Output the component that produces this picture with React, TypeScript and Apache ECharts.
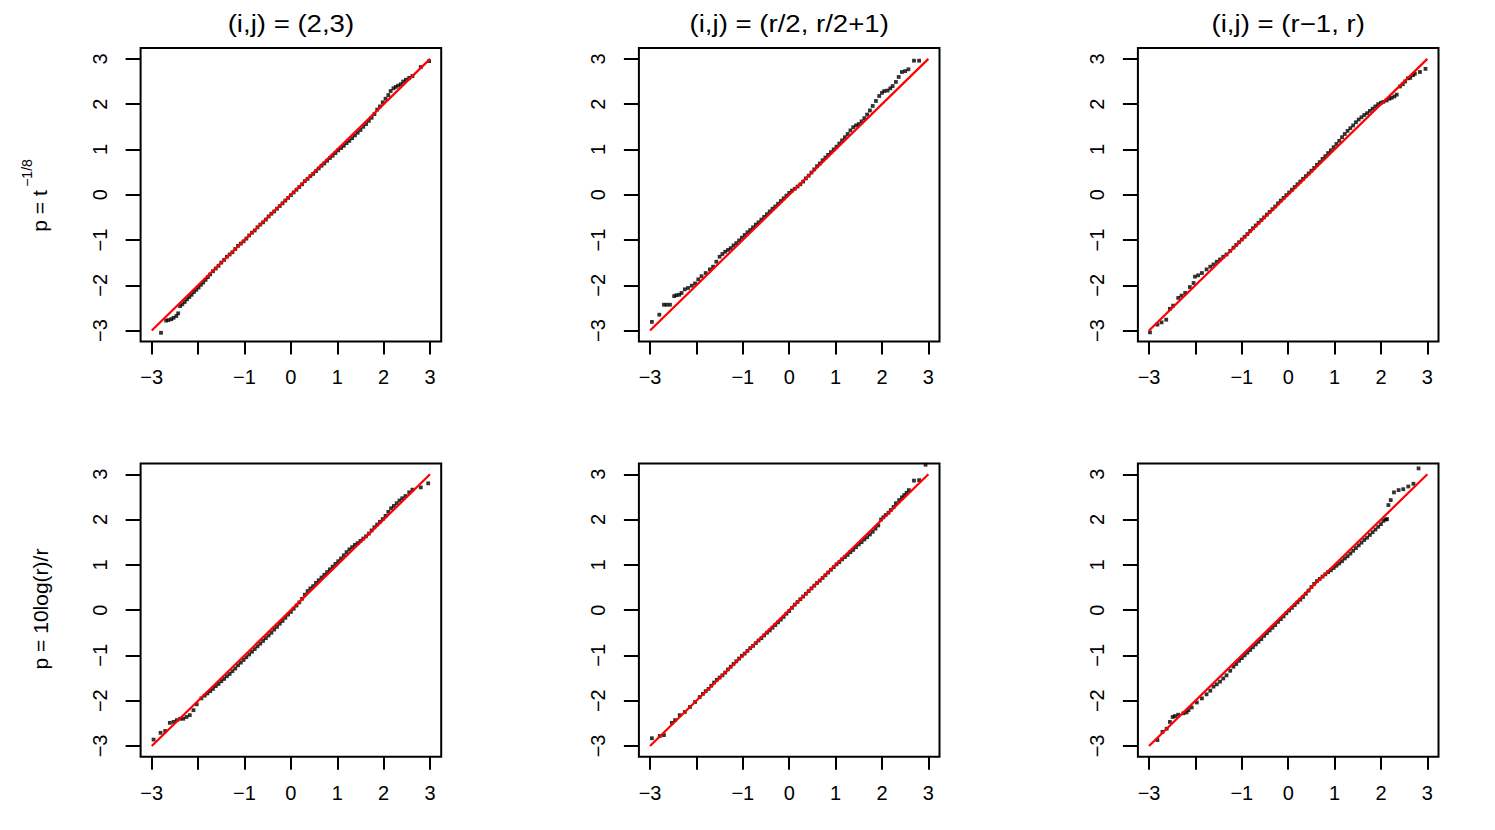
import React, { useEffect, useRef } from "react";
import * as echarts from "echarts";

// ---- axis / tick values ----
const axisRange = [-3.24, 3.24];
const xTicks = [-3, -2, -1, 0, 1, 2, 3];
const xTickLabels = [-3, -1, 0, 1, 2, 3];
const yTicks = [-3, -2, -1, 0, 1, 2, 3];
const refLine = [[-3, -3], [3, 3]];

const colTitles = ["(i,j) = (2,3)", "(i,j) = (r/2, r/2+1)", "(i,j) = (r\u22121, r)"];
const rowMain = ["p = t", "p = 10log(r)/r"];
const rowSup = ["\u22121/8", ""];

// ---- QQ points: [theoretical, sample] ----
const qqT23: number[][] = [
  [-2.80,-3.05],[-2.69,-2.78],[-2.64,-2.77],[-2.58,-2.75],[-2.53,-2.72],[-2.47,-2.68],[-2.43,-2.62],
  [-2.39,-2.46],[-2.34,-2.42],[-2.29,-2.37],[-2.24,-2.31],[-2.19,-2.26],[-2.14,-2.21],[-2.09,-2.15],[-2.04,-2.10],
  [-1.99,-2.05],[-1.94,-1.99],[-1.89,-1.94],[-1.84,-1.88],[-1.79,-1.82],[-1.74,-1.76],
  [-1.68,-1.69],[-1.62,-1.63],[-1.56,-1.57],[-1.50,-1.50],[-1.44,-1.44],[-1.38,-1.37],[-1.32,-1.32],[-1.26,-1.27],
  [-1.20,-1.20],[-1.14,-1.13],[-1.08,-1.08],[-1.02,-1.03],[-0.96,-0.97],[-0.90,-0.90],[-0.84,-0.84],[-0.78,-0.79],
  [-0.72,-0.72],[-0.66,-0.66],[-0.60,-0.61],[-0.54,-0.55],[-0.48,-0.48],[-0.42,-0.42],[-0.36,-0.37],[-0.30,-0.31],
  [-0.24,-0.25],[-0.18,-0.19],[-0.12,-0.13],[-0.06,-0.07],[0.00,-0.01],[0.06,0.05],[0.12,0.11],[0.18,0.17],
  [0.24,0.23],[0.30,0.30],[0.36,0.35],[0.42,0.41],[0.48,0.46],[0.54,0.52],[0.60,0.58],[0.66,0.64],[0.72,0.69],
  [0.78,0.75],[0.84,0.81],[0.90,0.86],[0.96,0.92],[1.02,0.98],[1.08,1.03],[1.14,1.08],[1.20,1.14],[1.26,1.19],
  [1.32,1.25],[1.38,1.31],[1.44,1.37],[1.50,1.43],[1.56,1.50],[1.62,1.56],[1.68,1.63],[1.74,1.70],[1.80,1.78],
  [1.86,1.88],[1.92,1.95],[1.98,2.04],[2.04,2.12],[2.10,2.20],[2.15,2.29],[2.21,2.35],[2.26,2.38],[2.31,2.41],
  [2.37,2.44],[2.42,2.50],[2.48,2.54],[2.55,2.58],[2.62,2.62],[2.80,2.82],[2.98,2.95]
];

const qqTMid: number[][] = [
  [-2.96,-2.81],[-2.80,-2.65],[-2.70,-2.43],[-2.64,-2.43],[-2.57,-2.43],[-2.48,-2.24],[-2.43,-2.22],[-2.37,-2.21],
  [-2.32,-2.17],[-2.25,-2.09],[-2.18,-2.06],[-2.10,-2.01],[-2.03,-1.96],[-1.96,-1.87],[-1.89,-1.80],[-1.80,-1.73],
  [-1.71,-1.65],[-1.64,-1.59],[-1.57,-1.48],[-1.50,-1.37],[-1.44,-1.31],[-1.38,-1.26],[-1.32,-1.22],[-1.26,-1.18],
  [-1.20,-1.12],[-1.14,-1.07],[-1.08,-1.01],[-1.02,-0.95],[-0.96,-0.89],[-0.90,-0.83],[-0.84,-0.78],[-0.78,-0.72],
  [-0.72,-0.66],[-0.66,-0.61],[-0.60,-0.55],[-0.54,-0.49],[-0.48,-0.43],[-0.42,-0.37],[-0.36,-0.31],[-0.30,-0.26],
  [-0.24,-0.20],[-0.18,-0.14],[-0.12,-0.08],[-0.06,-0.02],[0.00,0.04],[0.06,0.09],[0.12,0.13],[0.18,0.18],
  [0.24,0.23],[0.30,0.29],[0.36,0.36],[0.42,0.42],[0.48,0.49],[0.54,0.56],[0.60,0.63],[0.66,0.69],[0.72,0.76],
  [0.78,0.82],[0.84,0.88],[0.90,0.94],[0.96,1.00],[1.02,1.06],[1.08,1.13],[1.14,1.20],[1.20,1.27],[1.26,1.34],
  [1.32,1.42],[1.38,1.49],[1.44,1.53],[1.50,1.56],[1.56,1.62],[1.62,1.69],[1.68,1.77],[1.74,1.86],[1.80,1.96],
  [1.87,2.07],[1.94,2.18],[2.00,2.25],[2.05,2.29],[2.12,2.30],[2.18,2.35],[2.23,2.40],[2.30,2.49],[2.36,2.60],
  [2.43,2.71],[2.50,2.73],[2.57,2.77],[2.69,2.96],[2.80,2.96]
];

const qqTEnd: number[][] = [
  [-2.98,-3.04],[-2.82,-2.87],[-2.73,-2.82],[-2.63,-2.76],[-2.55,-2.52],[-2.48,-2.45],[-2.37,-2.28],[-2.30,-2.23],
  [-2.22,-2.17],[-2.12,-2.04],[-2.04,-1.95],[-2.01,-1.81],[-1.94,-1.78],[-1.86,-1.73],[-1.76,-1.65],[-1.68,-1.59],
  [-1.61,-1.54],[-1.54,-1.48],[-1.47,-1.43],[-1.40,-1.37],[-1.33,-1.32],[-1.25,-1.24],[-1.18,-1.17],[-1.12,-1.11],
  [-1.06,-1.05],[-1.00,-0.99],[-0.94,-0.93],[-0.88,-0.87],[-0.82,-0.80],[-0.76,-0.74],[-0.70,-0.68],[-0.64,-0.62],
  [-0.58,-0.56],[-0.52,-0.50],[-0.46,-0.44],[-0.40,-0.38],[-0.34,-0.32],[-0.28,-0.26],[-0.22,-0.19],[-0.16,-0.13],
  [-0.10,-0.07],[-0.04,-0.01],[0.02,0.05],[0.08,0.11],[0.14,0.17],[0.20,0.23],[0.26,0.29],[0.32,0.35],[0.38,0.41],
  [0.44,0.47],[0.50,0.53],[0.56,0.59],[0.62,0.66],[0.68,0.72],[0.74,0.79],[0.80,0.85],[0.86,0.92],[0.92,0.98],
  [0.98,1.05],[1.04,1.12],[1.10,1.19],[1.16,1.27],[1.22,1.34],[1.28,1.41],[1.34,1.47],[1.40,1.53],[1.46,1.60],
  [1.52,1.66],[1.58,1.71],[1.64,1.76],[1.70,1.80],[1.76,1.85],[1.82,1.90],[1.88,1.95],[1.94,2.00],[2.00,2.03],
  [2.05,2.05],[2.12,2.08],[2.18,2.12],[2.23,2.14],[2.29,2.17],[2.34,2.21],[2.41,2.39],[2.47,2.44],[2.52,2.50],
  [2.58,2.57],[2.63,2.58],[2.69,2.64],[2.73,2.67],[2.84,2.71],[2.96,2.78]
];

const qqL23: number[][] = [
  [-2.96,-2.86],[-2.81,-2.71],[-2.71,-2.67],[-2.61,-2.49],[-2.53,-2.47],[-2.46,-2.43],[-2.39,-2.40],[-2.32,-2.40],
  [-2.25,-2.36],[-2.18,-2.32],[-2.10,-2.21],[-2.03,-2.08],[-1.93,-1.95],[-1.86,-1.89],[-1.80,-1.84],[-1.74,-1.79],
  [-1.68,-1.74],[-1.62,-1.68],[-1.56,-1.63],[-1.50,-1.57],[-1.44,-1.52],[-1.38,-1.46],[-1.32,-1.41],[-1.26,-1.35],
  [-1.20,-1.29],[-1.14,-1.22],[-1.08,-1.16],[-1.02,-1.10],[-0.96,-1.04],[-0.90,-0.98],[-0.84,-0.92],[-0.78,-0.86],
  [-0.72,-0.80],[-0.66,-0.74],[-0.60,-0.68],[-0.54,-0.62],[-0.48,-0.56],[-0.42,-0.50],[-0.36,-0.43],[-0.30,-0.37],
  [-0.24,-0.30],[-0.18,-0.24],[-0.12,-0.17],[-0.06,-0.10],[0.00,-0.04],[0.06,0.03],[0.12,0.10],[0.18,0.17],
  [0.24,0.25],[0.30,0.34],[0.36,0.42],[0.42,0.48],[0.48,0.53],[0.54,0.60],[0.60,0.66],[0.66,0.72],[0.72,0.78],
  [0.78,0.84],[0.84,0.90],[0.90,0.96],[0.96,1.02],[1.02,1.08],[1.08,1.14],[1.14,1.21],[1.20,1.28],[1.26,1.34],
  [1.32,1.39],[1.38,1.44],[1.44,1.48],[1.50,1.53],[1.56,1.58],[1.62,1.63],[1.68,1.69],[1.74,1.76],[1.80,1.83],
  [1.86,1.89],[1.92,1.95],[1.98,2.01],[2.04,2.08],[2.10,2.17],[2.16,2.25],[2.22,2.30],[2.28,2.36],[2.34,2.42],
  [2.40,2.47],[2.47,2.52],[2.55,2.60],[2.62,2.66],[2.80,2.71],[2.96,2.80]
];

const qqLMid: number[][] = [
  [-2.96,-2.83],[-2.79,-2.78],[-2.70,-2.76],[-2.53,-2.49],[-2.46,-2.43],[-2.36,-2.32],[-2.25,-2.25],[-2.14,-2.14],
  [-2.03,-2.03],[-1.93,-1.92],[-1.86,-1.85],[-1.80,-1.79],[-1.74,-1.74],[-1.68,-1.67],[-1.62,-1.60],[-1.56,-1.54],
  [-1.50,-1.49],[-1.44,-1.44],[-1.38,-1.38],[-1.32,-1.31],[-1.26,-1.25],[-1.20,-1.19],[-1.14,-1.13],[-1.08,-1.07],
  [-1.02,-1.01],[-0.96,-0.96],[-0.90,-0.90],[-0.84,-0.84],[-0.78,-0.79],[-0.72,-0.73],[-0.66,-0.67],[-0.60,-0.62],
  [-0.54,-0.56],[-0.48,-0.50],[-0.42,-0.45],[-0.36,-0.39],[-0.30,-0.33],[-0.24,-0.27],[-0.18,-0.21],[-0.12,-0.15],
  [-0.06,-0.08],[0.00,-0.02],[0.06,0.05],[0.12,0.12],[0.18,0.18],[0.24,0.24],[0.30,0.30],[0.36,0.36],[0.42,0.42],
  [0.48,0.48],[0.54,0.54],[0.60,0.60],[0.66,0.65],[0.72,0.71],[0.78,0.77],[0.84,0.83],[0.90,0.89],[0.96,0.95],
  [1.02,1.01],[1.08,1.06],[1.14,1.12],[1.20,1.17],[1.26,1.22],[1.32,1.28],[1.38,1.33],[1.44,1.39],[1.50,1.45],
  [1.56,1.50],[1.62,1.56],[1.68,1.61],[1.74,1.67],[1.80,1.73],[1.86,1.80],[1.92,1.87],[1.98,2.00],[2.03,2.05],
  [2.08,2.10],[2.14,2.15],[2.19,2.21],[2.25,2.28],[2.30,2.36],[2.37,2.43],[2.43,2.49],[2.48,2.54],[2.53,2.59],
  [2.58,2.65],[2.69,2.86],[2.80,2.87],[2.94,3.21]
];

const qqLEnd: number[][] = [
  [-2.82,-2.87],[-2.71,-2.69],[-2.62,-2.62],[-2.55,-2.47],[-2.49,-2.36],[-2.44,-2.34],[-2.37,-2.31],[-2.26,-2.28],
  [-2.19,-2.26],[-2.15,-2.21],[-2.08,-2.15],[-1.97,-2.04],[-1.86,-1.95],[-1.76,-1.86],[-1.68,-1.78],[-1.61,-1.69],
  [-1.54,-1.64],[-1.47,-1.58],[-1.40,-1.51],[-1.33,-1.44],[-1.25,-1.34],[-1.18,-1.25],[-1.12,-1.19],[-1.06,-1.12],
  [-1.00,-1.06],[-0.94,-1.00],[-0.88,-0.94],[-0.82,-0.88],[-0.76,-0.82],[-0.70,-0.76],[-0.64,-0.70],[-0.58,-0.64],
  [-0.52,-0.57],[-0.46,-0.51],[-0.40,-0.45],[-0.34,-0.39],[-0.28,-0.33],[-0.22,-0.26],[-0.16,-0.20],[-0.10,-0.14],
  [-0.04,-0.07],[0.02,-0.01],[0.08,0.05],[0.14,0.11],[0.20,0.17],[0.26,0.23],[0.32,0.29],[0.38,0.36],[0.44,0.43],
  [0.50,0.51],[0.56,0.58],[0.62,0.64],[0.68,0.69],[0.74,0.74],[0.80,0.79],[0.86,0.84],[0.92,0.88],[0.98,0.93],
  [1.04,0.98],[1.10,1.03],[1.16,1.08],[1.22,1.14],[1.28,1.19],[1.34,1.25],[1.40,1.31],[1.46,1.37],[1.52,1.43],
  [1.58,1.49],[1.64,1.55],[1.70,1.60],[1.76,1.66],[1.82,1.72],[1.88,1.78],[1.94,1.84],[2.00,1.90],[2.05,1.97],
  [2.10,2.00],[2.13,2.01],[2.16,2.32],[2.21,2.43],[2.28,2.60],[2.38,2.65],[2.48,2.67],[2.59,2.73],[2.70,2.79],
  [2.81,3.13]
];

const panelData = [qqT23, qqTMid, qqTEnd, qqL23, qqLMid, qqLEnd];

// ---- layout ----
const colLeft = [140.6, 638.9, 1137.9];
const rowTop = [48, 463.4];
const boxW = 300.6;
const boxH = 293.4;
const FONT = '"Liberation Sans", Arial, Helvetica, sans-serif';

const minusFmt = (v: number) => (v < 0 ? "\u2212" + Math.abs(v) : String(v));

export default function App() {
  const ref = useRef<HTMLDivElement>(null);
  useEffect(() => {
    document.body.style.margin = "0";
    if (!ref.current) return;
    const chart = echarts.init(ref.current, undefined, { renderer: "svg" });
    const grids: any[] = [];
    const xAxes: any[] = [];
    const yAxes: any[] = [];
    const series: any[] = [];
    const graphics: any[] = [];
    for (let r = 0; r < 2; r++) {
      for (let c = 0; c < 3; c++) {
        const i = r * 3 + c;
        grids.push({
          left: colLeft[c], top: rowTop[r], width: boxW, height: boxH,
          show: true, borderColor: "#000", borderWidth: 2, backgroundColor: "transparent",
        });
        xAxes.push({
          gridIndex: i, type: "value", position: "bottom", min: axisRange[0], max: axisRange[1],
          axisLine: { show: false, onZero: false }, splitLine: { show: false },
          axisTick: { show: true, customValues: xTicks, length: 13, lineStyle: { color: "#000", width: 2 } },
          axisLabel: { show: true, customValues: xTickLabels, formatter: minusFmt, fontSize: 20, fontFamily: FONT, color: "#000", margin: 26 },
        });
        yAxes.push({
          gridIndex: i, type: "value", position: "left", min: axisRange[0], max: axisRange[1],
          axisLine: { show: false, onZero: false }, splitLine: { show: false },
          axisTick: { show: true, customValues: yTicks, length: 15, lineStyle: { color: "#000", width: 2 } },
          axisLabel: { show: true, customValues: yTicks, formatter: minusFmt, rotate: 90, fontSize: 20, fontFamily: FONT, color: "#000", margin: 31 },
        });
        series.push({
          type: "scatter", xAxisIndex: i, yAxisIndex: i, data: panelData[i],
          symbol: "rect", symbolSize: 3.8, itemStyle: { color: "#000" }, silent: true, z: 2,
        });
        series.push({
          type: "line", xAxisIndex: i, yAxisIndex: i, data: refLine,
          symbol: "none", lineStyle: { color: "#ff0000", width: 2.2 }, silent: true, z: 3,
        });
      }
    }
    for (let c = 0; c < 3; c++) {
      graphics.push({
        type: "text", x: colLeft[c] + boxW / 2, y: 24, scaleX: 1.15,
        style: { text: colTitles[c], font: `24px ${FONT}`, fill: "#000", align: "center", verticalAlign: "middle", textAlign: "center", textVerticalAlign: "middle" },
      });
    }
    // row labels
    graphics.push({
      type: "text", x: 39, y: 211, rotation: Math.PI / 2,
      style: { text: rowMain[0], font: `21px ${FONT}`, fill: "#000", align: "center", verticalAlign: "middle", textAlign: "center", textVerticalAlign: "middle" },
    });
    graphics.push({
      type: "text", x: 27, y: 173, rotation: Math.PI / 2,
      style: { text: rowSup[0], font: `14px ${FONT}`, fill: "#000", align: "center", verticalAlign: "middle", textAlign: "center", textVerticalAlign: "middle" },
    });
    graphics.push({
      type: "text", x: 40, y: 609, rotation: Math.PI / 2,
      style: { text: rowMain[1], font: `21px ${FONT}`, fill: "#000", align: "center", verticalAlign: "middle", textAlign: "center", textVerticalAlign: "middle" },
    });
    chart.setOption({
      animation: false,
      backgroundColor: "#fff",
      grid: grids,
      xAxis: xAxes,
      yAxis: yAxes,
      series,
      graphic: graphics,
    });
    return () => chart.dispose();
  }, []);
  return <div ref={ref} style={{ width: 1495, height: 830 }} />;
}
